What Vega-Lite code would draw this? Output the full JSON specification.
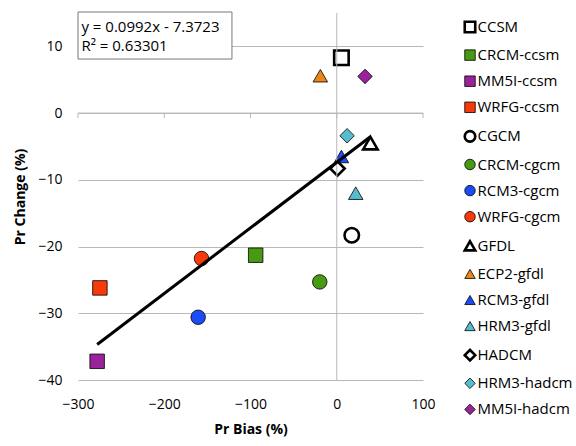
{
  "$schema": "https://vega.github.io/schema/vega-lite/v6.json",
  "width": 345,
  "height": 367,
  "autosize": {"type": "none"},
  "padding": {"left": 78, "top": 13, "right": 153, "bottom": 66},
  "background": "white",
  "config": {
    "view": {"stroke": null},
    "font": "Open Sans",
    "axis": {"labelFont": "Open Sans", "titleFont": "Open Sans", "labelColor": "#000", "titleColor": "#000"},
    "legend": {"labelFont": "Open Sans"}
  },
  "datasets": {
    "pts": [
      {"model": "CCSM", "bias": 5.4, "change": 8.3},
      {"model": "CRCM-ccsm", "bias": -94, "change": -21.3},
      {"model": "MM5I-ccsm", "bias": -277.8, "change": -37.2},
      {"model": "WRFG-ccsm", "bias": -274.6, "change": -26.2},
      {"model": "CGCM", "bias": 17.4, "change": -18.3},
      {"model": "CRCM-cgcm", "bias": -19.7, "change": -25.3},
      {"model": "RCM3-cgcm", "bias": -160.7, "change": -30.6},
      {"model": "WRFG-cgcm", "bias": -156.8, "change": -21.8},
      {"model": "GFDL", "bias": 39, "change": -4.5},
      {"model": "ECP2-gfdl", "bias": -19, "change": 5.6},
      {"model": "RCM3-gfdl", "bias": 5.4, "change": -6.5},
      {"model": "HRM3-gfdl", "bias": 22, "change": -12},
      {"model": "HADCM", "bias": 0.8, "change": -8.3},
      {"model": "HRM3-hadcm", "bias": 12, "change": -3.4},
      {"model": "MM5I-hadcm", "bias": 32.8, "change": 5.5}
    ],
    "ticks": [{"t": -300}, {"t": -200}, {"t": -100}, {"t": 0}, {"t": 100}],
    "one": [{"id": 1}]
  },
  "layer": [
    {
      "data": {"name": "pts"},
      "mark": {"type": "point", "filled": true, "stroke": "black", "opacity": 1, "size": 210},
      "encoding": {
        "x": {
          "field": "bias", "type": "quantitative",
          "scale": {"domain": [-300, 100], "nice": false, "zero": false},
          "axis": {"values": [-300, -200, -100, 0, 100], "grid": false, "domain": false, "ticks": false,
                   "labelFontSize": 14, "labelPadding": 17, "labelFlush": false, "labelOverlap": false,
                   "title": "Pr Bias (%)", "titleFontSize": 14,
                   "titleFontWeight": "bold", "titlePadding": 11}
        },
        "y": {
          "field": "change", "type": "quantitative",
          "scale": {"domain": [-40, 15], "nice": false, "zero": false},
          "axis": {"values": [-40, -35, -30, -25, -20, -15, -10, -5, 0, 5, 10, 15], "grid": true, "gridColor": "#b8b8b8",
                   "domain": false, "ticks": false, "labelFontSize": 14, "labelPadding": 16,
                   "labelOverlap": false, "format": "d",
                   "title": "Pr Change (%)", "titleFontSize": 14, "titleFontWeight": "bold", "titlePadding": 10}
        },
        "fill": {
          "field": "model", "type": "nominal",
          "scale": {
            "domain": ["CCSM", "CRCM-ccsm", "MM5I-ccsm", "WRFG-ccsm", "CGCM", "CRCM-cgcm", "RCM3-cgcm", "WRFG-cgcm", "GFDL", "ECP2-gfdl", "RCM3-gfdl", "HRM3-gfdl", "HADCM", "HRM3-hadcm", "MM5I-hadcm"],
            "range": ["#ffffff", "#479a12", "#9a229a", "#f63a0c", "#ffffff", "#479a12", "#1c4cf8", "#f63a0c", "#ffffff", "#ea861a", "#1c4cf8", "#58bcd0", "#ffffff", "#58bcd0", "#9a229a"]
          },
          "legend": {
            "title": null, "orient": "right", "offset": 32.5, "padding": 6.5,
            "labelFontSize": 15, "labelOffset": 0, "symbolSize": 110, "rowPadding": 10.1,
            "labelColor": "#000", "symbolStrokeColor": "black"
          }
        },
        "shape": {
          "field": "model", "type": "nominal",
          "scale": {
            "domain": ["CCSM", "CRCM-ccsm", "MM5I-ccsm", "WRFG-ccsm", "CGCM", "CRCM-cgcm", "RCM3-cgcm", "WRFG-cgcm", "GFDL", "ECP2-gfdl", "RCM3-gfdl", "HRM3-gfdl", "HADCM", "HRM3-hadcm", "MM5I-hadcm"],
            "range": ["square", "square", "square", "square", "circle", "circle", "circle", "circle", "triangle-up", "triangle-up", "triangle-up", "triangle-up", "diamond", "diamond", "diamond"]
          }
        },
        "strokeWidth": {
          "field": "model", "type": "nominal",
          "scale": {
            "type": "ordinal",
            "domain": ["CCSM", "CRCM-ccsm", "MM5I-ccsm", "WRFG-ccsm", "CGCM", "CRCM-cgcm", "RCM3-cgcm", "WRFG-cgcm", "GFDL", "ECP2-gfdl", "RCM3-gfdl", "HRM3-gfdl", "HADCM", "HRM3-hadcm", "MM5I-hadcm"],
            "range": [2.6, 0.8, 0.8, 0.8, 2.6, 0.8, 0.8, 0.8, 2.6, 0.8, 0.8, 0.8, 2.6, 0.8, 0.8]
          }
        }
      }
    },
    {
      "data": {"name": "one"},
      "mark": {"type": "rule", "color": "#b8b8b8", "strokeWidth": 1},
      "encoding": {"x": {"datum": 0, "type": "quantitative"}}
    },
    {
      "data": {"name": "one"},
      "mark": {"type": "rule", "color": "#b8b8b8", "strokeWidth": 1},
      "encoding": {"y": {"datum": 0, "type": "quantitative"}}
    },
    {
      "data": {"name": "ticks"},
      "mark": {"type": "rule", "color": "#b8b8b8", "strokeWidth": 1},
      "encoding": {
        "x": {"field": "t", "type": "quantitative"},
        "y": {"datum": 0, "type": "quantitative"},
        "y2": {"datum": -0.75}
      }
    },
    {
      "data": {"name": "pts"},
      "transform": [{"regression": "change", "on": "bias", "method": "linear"}],
      "mark": {"type": "line", "color": "black", "strokeWidth": 3},
      "encoding": {
        "x": {"field": "bias", "type": "quantitative"},
        "y": {"field": "change", "type": "quantitative"}
      }
    },
    {
      "data": {"name": "one"},
      "mark": {"type": "rect", "fill": "white", "stroke": "#777777", "strokeWidth": 1},
      "encoding": {
        "x": {"datum": -300, "type": "quantitative"},
        "x2": {"datum": -121.5},
        "y": {"datum": 15.15, "type": "quantitative"},
        "y2": {"datum": 8.1}
      }
    },
    {
      "data": {"name": "one"},
      "mark": {"type": "text", "align": "left", "baseline": "middle", "fontSize": 15, "color": "black", "font": "Open Sans"},
      "encoding": {
        "x": {"datum": -296, "type": "quantitative"},
        "y": {"datum": 12.9, "type": "quantitative"},
        "text": {"value": "y = 0.0992x - 7.3723"}
      }
    },
    {
      "data": {"name": "one"},
      "mark": {"type": "text", "align": "left", "baseline": "middle", "fontSize": 15, "color": "black", "font": "Open Sans"},
      "encoding": {
        "x": {"datum": -296, "type": "quantitative"},
        "y": {"datum": 10.1, "type": "quantitative"},
        "text": {"value": "R² = 0.63301"}
      }
    }
  ]
}
